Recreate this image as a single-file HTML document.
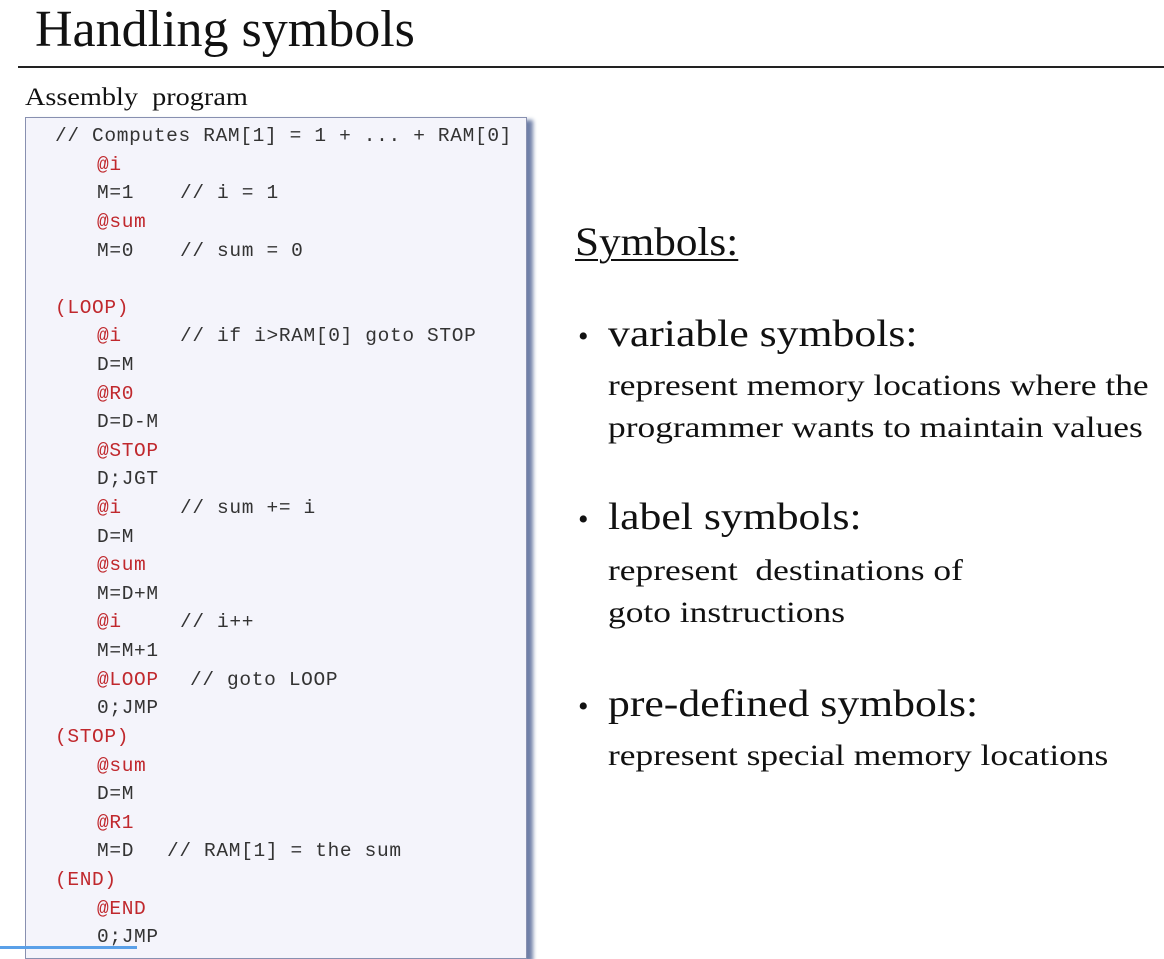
<!DOCTYPE html>
<html><head><meta charset="utf-8"><style>
*{margin:0;padding:0}
body{width:1164px;height:949px;background:#fff;position:relative;overflow:hidden;font-family:"Liberation Serif",serif;color:#111}
.a{position:absolute;white-space:pre;transform-origin:0 0}
.title{left:35px;top:0px;font-size:52px}
.rule{position:absolute;left:18px;top:66px;width:1146px;height:2px;background:#222}
.sub{left:25px;top:84px;font-size:25px;transform:scaleX(1.13)}
.box{position:absolute;left:25px;top:117px;width:500px;height:840px;background:#f4f4fb;border:1px solid #8890b0;box-shadow:6px 3px 4px #7080a8}
.code{font-family:"Liberation Mono",monospace;font-size:19.5px;letter-spacing:0.65px;color:#333}
.code .a{margin-top:1px}
.r{color:#c0282d}
.h{font-size:40px;left:575px;top:218px;text-decoration:underline;text-decoration-thickness:2px;text-underline-offset:4px;transform:scaleX(1.08)}
.b{font-size:38px;left:608px;transform:scaleX(1.15)}
.dot{font-size:30px;left:578px}
.t{font-size:30px;left:608px;transform:scaleX(1.18)}
.blue{position:absolute;left:0;top:946px;width:137px;height:3px;background:#5aa0e8}
</style></head><body>
<div class="a title">Handling symbols</div>
<div class="rule"></div>
<div class="a sub">Assembly  program</div>
<div class="box"></div>
<div class="blue"></div>
<div class="code">
<div class="a" style="left:55px;top:124px">// Computes RAM[1] = 1 + ... + RAM[0]</div>
<div class="a r" style="left:97px;top:153px">@i</div>
<div class="a" style="left:97px;top:181px">M=1</div><div class="a" style="left:180px;top:181px">// i = 1</div>
<div class="a r" style="left:97px;top:210px">@sum</div>
<div class="a" style="left:97px;top:239px">M=0</div><div class="a" style="left:180px;top:239px">// sum = 0</div>
<div class="a r" style="left:55px;top:296px">(LOOP)</div>
<div class="a r" style="left:97px;top:324px">@i</div><div class="a" style="left:180px;top:324px">// if i&gt;RAM[0] goto STOP</div>
<div class="a" style="left:97px;top:353px">D=M</div>
<div class="a r" style="left:97px;top:382px">@R0</div>
<div class="a" style="left:97px;top:410px">D=D-M</div>
<div class="a r" style="left:97px;top:439px">@STOP</div>
<div class="a" style="left:97px;top:467px">D;JGT</div>
<div class="a r" style="left:97px;top:496px">@i</div><div class="a" style="left:180px;top:496px">// sum += i</div>
<div class="a" style="left:97px;top:525px">D=M</div>
<div class="a r" style="left:97px;top:553px">@sum</div>
<div class="a" style="left:97px;top:582px">M=D+M</div>
<div class="a r" style="left:97px;top:610px">@i</div><div class="a" style="left:180px;top:610px">// i++</div>
<div class="a" style="left:97px;top:639px">M=M+1</div>
<div class="a r" style="left:97px;top:668px">@LOOP</div><div class="a" style="left:190px;top:668px">// goto LOOP</div>
<div class="a" style="left:97px;top:696px">0;JMP</div>
<div class="a r" style="left:55px;top:725px">(STOP)</div>
<div class="a r" style="left:97px;top:754px">@sum</div>
<div class="a" style="left:97px;top:782px">D=M</div>
<div class="a r" style="left:97px;top:811px">@R1</div>
<div class="a" style="left:97px;top:839px">M=D</div><div class="a" style="left:167px;top:839px">// RAM[1] = the sum</div>
<div class="a r" style="left:55px;top:868px">(END)</div>
<div class="a r" style="left:97px;top:897px">@END</div>
<div class="a" style="left:97px;top:925px">0;JMP</div>
</div>
<div class="a h">Symbols:</div>
<div class="a dot" style="top:320px">•</div>
<div class="a b" style="top:312px">variable symbols:</div>
<div class="a t" style="top:369px">represent memory locations where the</div>
<div class="a t" style="top:411px">programmer wants to maintain values</div>
<div class="a dot" style="top:503px">•</div>
<div class="a b" style="top:495px">label symbols:</div>
<div class="a t" style="top:554px">represent  destinations of</div>
<div class="a t" style="top:596px">goto instructions</div>
<div class="a dot" style="top:690px">•</div>
<div class="a b" style="top:682px">pre-defined symbols:</div>
<div class="a t" style="top:739px">represent special memory locations</div>
</body></html>
